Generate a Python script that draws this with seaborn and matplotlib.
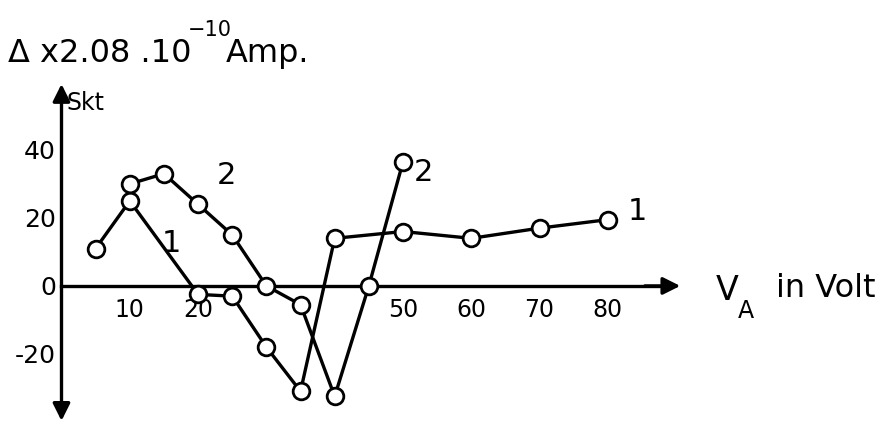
import matplotlib
matplotlib.use("Agg")
import matplotlib.pyplot as plt
import numpy as np
import pandas as pd
import seaborn as sns

# Anode voltage (V) and deflection (Skt) for the two measurement series
v_curve1 = [5, 10, 20, 25, 30, 35, 40, 50, 60, 70, 80]
i_curve1 = [11, 25, -2.5, -3, -18, -31, 14, 16, 14, 17, 19.5]

v_curve2 = [10, 15, 20, 25, 30, 35, 40, 45, 50]
i_curve2 = [30, 33, 24, 15, 0, -5.5, -32.5, 0, 36.5]

x_ticks = [10, 20, 30, 40, 50, 60, 70, 80]
x_ticklabels = ["10", "20", "", "", "50", "60", "70", "80"]
y_ticks = [-30, -20, -10, 0, 10, 20, 30, 40]
y_ticklabels = ["", "-20", "", "0", "", "20", "", "40"]

df = pd.concat([
    pd.DataFrame({"V": v_curve1, "I": i_curve1, "curve": "1"}),
    pd.DataFrame({"V": v_curve2, "I": i_curve2, "curve": "2"}),
], ignore_index=True)

sns.set_style("white", {"text.color": "black", "xtick.color": "black",
                        "ytick.color": "black", "axes.labelcolor": "black"})
plt.rcParams["font.family"] = ["DejaVu Sans"]

fig = plt.figure(figsize=(8.9, 4.26), dpi=100)
ax = fig.add_axes([0, 0, 1, 1])

sns.lineplot(data=df, x="V", y="I", hue="curve", palette=["black", "black"],
             estimator=None, sort=False, legend=False, ax=ax,
             lw=2.4, marker="o", markersize=12, markerfacecolor="white",
             markeredgecolor="black", markeredgewidth=2.0, zorder=3)

ax.set_xlim(-9.0, 121.3)
ax.set_ylim(-41.2, 84.1)

# Axes crossing at the origin
for side in ("top", "right"):
    ax.spines[side].set_visible(False)
ax.spines["left"].set_position(("data", 0))
ax.spines["bottom"].set_position(("data", 0))
ax.spines["left"].set_bounds(-38, 58)
ax.spines["bottom"].set_bounds(0, 88)
for side in ("left", "bottom"):
    ax.spines[side].set_linewidth(2.4)
    ax.spines[side].set_color("black")

ax.set_xticks(x_ticks)
ax.set_xticklabels(x_ticklabels)
ax.set_yticks(y_ticks)
ax.set_yticklabels(y_ticklabels)
ax.tick_params(axis="x", direction="in", length=8, width=2.0, pad=9,
               labelsize=17, colors="black")
ax.tick_params(axis="y", direction="in", length=8, width=2.0, pad=4,
               labelsize=18, colors="black")
ax.set_xlabel("")
ax.set_ylabel("")

arrow = dict(arrowstyle="-|>", lw=2.4, color="black", mutation_scale=26)
ax.annotate("", xy=(91.0, 0), xytext=(85, 0), arrowprops=arrow)
ax.annotate("", xy=(0, 60.2), xytext=(0, 55), arrowprops=arrow)
ax.annotate("", xy=(0, -40.5), xytext=(0, -35), arrowprops=arrow)

# Curve labels
ax.text(24.2, 32.6, "2", fontsize=22, ha="center", va="center", color="black")
ax.text(16.1, 12.6, "1", fontsize=22, ha="center", va="center", color="black")
ax.text(53.0, 33.5, "2", fontsize=22, ha="center", va="center", color="black")
ax.text(84.3, 21.8, "1", fontsize=22, ha="center", va="center", color="black")

# Axis titles
ax.text(0.7, 53.8, "Skt", fontsize=17, ha="left", va="center", color="black")
fig.text(8 / 890, 1 - 62 / 426, "Δ x2.08 .10", fontsize=23, ha="left",
         va="baseline", color="black")
fig.text(188 / 890, 1 - 36 / 426, "−10", fontsize=15, ha="left",
         va="baseline", color="black")
fig.text(226 / 890, 1 - 62 / 426, "Amp.", fontsize=23, ha="left",
         va="baseline", color="black")
fig.text(716 / 890, 1 - 300 / 426, "V", fontsize=24, ha="left",
         va="baseline", color="black")
fig.text(738 / 890, 1 - 318 / 426, "A", fontsize=17, ha="left",
         va="baseline", color="black")
fig.text(776 / 890, 1 - 297 / 426, "in Volt", fontsize=23, ha="left",
         va="baseline", color="black")

fig.savefig("out.png", dpi=100)
